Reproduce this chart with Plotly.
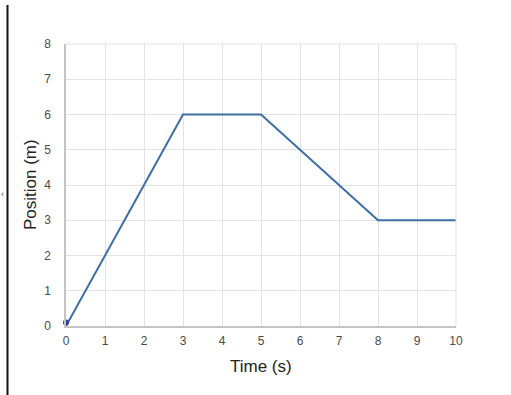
import plotly.graph_objects as go

time_s = [0, 3, 5, 8, 10]
position_m = [0, 6, 6, 3, 3]
start_time = [0]
start_pos = [0.1]
x_ticks = list(range(0, 11))
y_ticks = list(range(0, 9))

fig = go.Figure()
fig.add_trace(go.Scatter(x=time_s, y=position_m, mode="lines",
                         line=dict(color="#3d6ea6", width=2), showlegend=False))
fig.add_trace(go.Scatter(x=start_time, y=start_pos, mode="markers", cliponaxis=False,
                         marker=dict(color="#2b3fa0", size=6), showlegend=False))

W, H = 511, 395
L, R, T, B = 66, 55, 44, 69
pw, ph = W - L - R, H - T - B

def px(x):
    return (x - L) / pw

def py(y):
    return (H - B - y) / ph

tickfont = dict(size=12, color="#4a4a4a", family="Liberation Sans, Arial, sans-serif")

fig.update_layout(
    width=W, height=H,
    margin=dict(l=L, r=R, t=T, b=B),
    paper_bgcolor="white", plot_bgcolor="white",
    font=dict(family="Liberation Sans, Arial, sans-serif"),
    xaxis=dict(range=[0, 10], tickvals=x_ticks, showgrid=True, gridcolor="#e3e3e3",
               gridwidth=1, zeroline=False, showline=True, linecolor="#c4c4c4",
               linewidth=1.5, ticks="", tickfont=tickfont, ticklabelstandoff=3,
               fixedrange=True),
    yaxis=dict(range=[0, 8], tickvals=y_ticks, showgrid=True, gridcolor="#e3e3e3",
               gridwidth=1, zeroline=False, showline=True, linecolor="#c4c4c4",
               linewidth=1.5, ticks="", tickfont=tickfont, ticklabelstandoff=11,
               fixedrange=True),
    shapes=[
        dict(type="line", xref="paper", yref="paper", x0=px(7.5), x1=px(7.5),
             y0=py(5), y1=py(H), line=dict(color="#111111", width=2)),
        dict(type="line", xref="paper", yref="paper", x0=1, x1=1,
             y0=0, y1=1, line=dict(color="#e3e3e3", width=1)),
        dict(type="line", xref="paper", yref="paper", x0=0, x1=1,
             y0=1, y1=1, line=dict(color="#e3e3e3", width=1)),
    ],
    annotations=[
        dict(text="Time (s)", xref="paper", yref="paper", x=px(261), y=py(366),
             showarrow=False, font=dict(size=17, color="#222222"),
             xanchor="center", yanchor="middle"),
        dict(text="Position (m)", xref="paper", yref="paper", x=px(30), y=py(185),
             showarrow=False, font=dict(size=17, color="#222222"), textangle=-90,
             xanchor="center", yanchor="middle"),
        dict(text="‹", xref="paper", yref="paper", x=px(2), y=py(194),
             showarrow=False, font=dict(size=9, color="#555555"),
             xanchor="center", yanchor="middle"),
    ],
)

fig.write_html("out.html")
